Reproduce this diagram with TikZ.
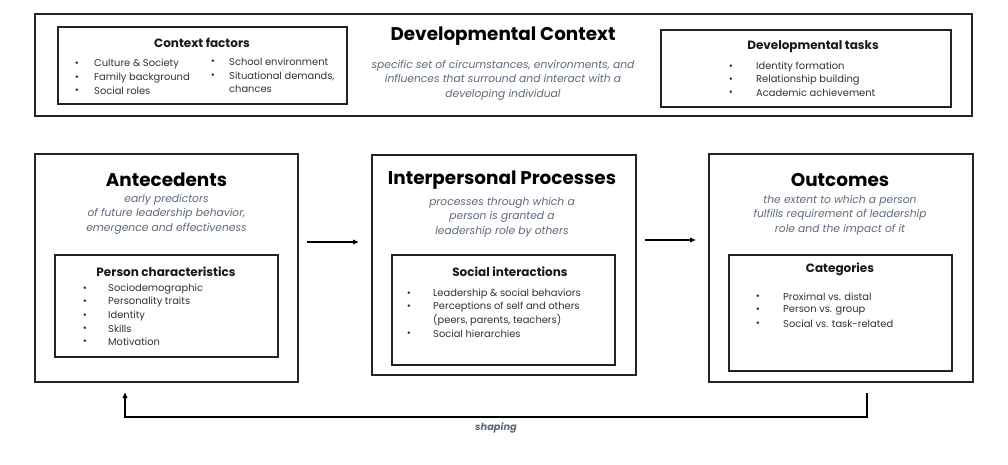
\documentclass[tikz,border=0pt]{standalone}
\usepackage{fontspec}
\setmainfont{Poppins}
\usetikzlibrary{arrows.meta}
\definecolor{subc}{RGB}{92,106,124}
\definecolor{itemc}{RGB}{50,50,50}
\definecolor{linec}{RGB}{35,35,35}
\tikzset{
  box/.style={draw=linec, line width=1.5pt, inner sep=0pt},
  ttl/.style={font=\fontsize{18.4}{21}\selectfont\bfseries, text=black, inner sep=0pt},
  sub/.style={font=\fontsize{10.7}{14.5}\selectfont\itshape, text=subc, align=center, inner sep=0pt},
  hdg/.style={font=\fontsize{12}{14}\selectfont\bfseries, text=black!90, inner sep=0pt},
  item/.style={font=\fontsize{9.9}{13.2}\selectfont, text=itemc, anchor=west, align=left, inner sep=0pt},
  bul/.style={font=\fontsize{10}{12}\selectfont, text=itemc, inner sep=0pt},
  arr/.style={draw=black, line width=1.6pt, -{Latex[length=6pt,width=5.5pt]}},
}
\begin{document}
\begin{tikzpicture}[x=1pt,y=-1pt]
\useasboundingbox[fill=white] (0,0) rectangle (1008,465);

% top context box
\node[box, minimum width=937pt, minimum height=102pt] (ctx) at (503.5,65) {};
\node[box, minimum width=289pt, minimum height=77pt] (cf) at (202.5,65.5) {};
\node[box, minimum width=290pt, minimum height=77pt] (dt) at (806,68.5) {};
\node[ttl] (ctxT) at (503,36) {Developmental Context};
\node[sub] (ctxS) at (503,80) {specific set of circumstances, environments, and\\influences that surround and interact with a\\developing individual};

\node[hdg] (cfH) at (202,43) {Context factors};
\foreach \t/\y [count=\i] in {Culture \& Society/64, Family background/78, Social roles/91}{
  \node[bul] (cfb\i) at (77,\y) {•};
  \node[item] (cft\i) at (94,\y) {\t};
}
\node[bul] (cfb4) at (213,62) {•};
\node[item] (cft4) at (229,62) {School environment};
\node[bul] (cfb5) at (213,76) {•};
\node[item] (cft5) at (229,82) {Situational demands,\\chances};

\node[hdg] (dtH) at (813,47) {Developmental tasks};
\foreach \t/\y [count=\i] in {Identity formation/67, Relationship building/80, Academic achievement/93}{
  \node[bul] (dtb\i) at (731,\y) {•};
  \node[item] (dtt\i) at (756,\y) {\t};
}

% Antecedents
\node[box, minimum width=263pt, minimum height=228pt] (ante) at (166.5,268) {};
\node[ttl] (anteT) at (166.5,180) {Antecedents};
\node[sub] (anteS) at (166.5,214) {early predictors\\of future leadership behavior,\\emergence and effectiveness};
\node[box, minimum width=223pt, minimum height=102pt] (pc) at (166.5,306) {};
\node[hdg] (pcH) at (166,272) {Person characteristics};
\foreach \t/\y [count=\i] in {Sociodemographic/289, Personality traits/302.5, Identity/316, Skills/329, Motivation/342}{
  \node[bul] (pcb\i) at (85,\y) {•};
  \node[item] (pct\i) at (108,\y) {\t};
}

% Interpersonal
\node[box, minimum width=264pt, minimum height=220pt] (ip) at (504,265) {};
\node[ttl] (ipT) at (502,180) {Interpersonal Processes};
\node[sub] (ipS) at (502,217) {processes through which a\\person is granted a\\leadership role by others};
\node[box, minimum width=223pt, minimum height=110pt] (si) at (503.5,310) {};
\node[hdg] (siH) at (510,272) {Social interactions};
\node[bul] (sib1) at (409,294) {•};
\node[item] (sit1) at (433,294) {Leadership \& social behaviors};
\node[bul] (sib2) at (409,307.5) {•};
\node[item] (sit2) at (433,314) {Perceptions of self and others\\(peers, parents, teachers)};
\node[bul] (sib3) at (409,334) {•};
\node[item] (sit3) at (433,334) {Social hierarchies};

% Outcomes
\node[box, minimum width=264pt, minimum height=228pt] (out) at (841,268) {};
\node[ttl] (outT) at (840,180) {Outcomes};
\node[sub] (outS) at (840,215) {the extent to which a person\\fulfills requirement of leadership\\role and the impact of it};
\node[box, minimum width=223pt, minimum height=116pt] (cat) at (840.5,313) {};
\node[hdg] (catH) at (840,269) {Categories};
\foreach \t/\y [count=\i] in {Proximal vs. distal/297, Person vs. group/310.5, Social vs. task-related/324}{
  \node[bul] (catb\i) at (758,\y) {•};
  \node[item] (catt\i) at (783,\y) {\t};
}

% arrows
\coordinate (a1s) at (307,242);
\coordinate (a1e) at (359,242);
\draw[arr] (a1s) -- (a1e);
\coordinate (a2s) at (645,240);
\coordinate (a2e) at (696,240);
\draw[arr] (a2s) -- (a2e);

\coordinate (fbs) at (867,393);
\coordinate (fbe) at (125,392);
\draw[arr] (fbs) -- (867,417) -- (125,417) -- (fbe);
\node[font=\fontsize{9.8}{11}\selectfont\bfseries\itshape, text=subc, inner sep=0pt] (shp) at (496,427.5) {shaping};
\end{tikzpicture}
\end{document}
